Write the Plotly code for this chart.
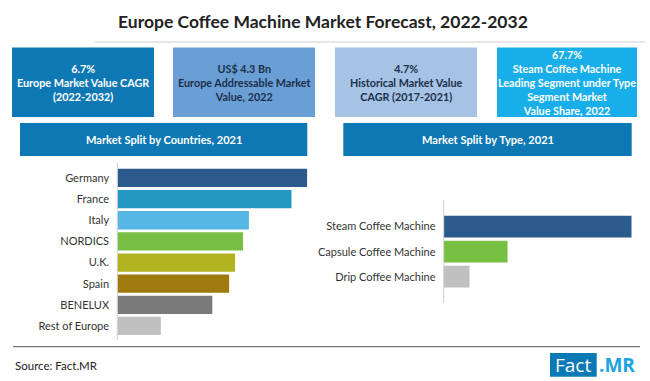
import plotly.graph_objects as go

W, H = 650, 381

# ---- data ----
countries = ["Germany", "France", "Italy", "NORDICS", "U.K.", "Spain", "BENELUX", "Rest of Europe"]
country_share = [19.2, 17.6, 13.3, 12.7, 11.9, 11.3, 9.6, 4.4]
country_colors = ["#2b5a8c", "#2398c2", "#56b6e4", "#78c043", "#b3b21f", "#9e7b0c", "#7a7a7a", "#c0c0c0"]

types = ["Steam Coffee Machine", "Capsule Coffee Machine", "Drip Coffee Machine"]
type_share = [67.7, 23.0, 9.3]
type_colors = ["#2b5a8c", "#78c043", "#c0c0c0"]

kpi_texts = [
    "6.7%<br>Europe Market Value CAGR<br>(2022-2032)",
    "US$ 4.3 Bn<br>Europe Addressable Market<br>Value, 2022",
    "4.7%<br>Historical Market Value<br>CAGR (2017-2021)",
    "67.7%<br>Steam Coffee Machine<br>Leading Segment under Type<br>Segment Market<br>Value Share, 2022",
]
kpi_fill = ["#0e78b4", "#6a9fd5", "#a5c3e4", "#17aee9"]
kpi_font = ["#ffffff", "#1c2f4a", "#1c2f4a", "#ffffff"]


def X(px):
    return px / W


def Y(py):
    return 1 - py / H


fig = go.Figure()

fig.add_trace(go.Bar(
    x=country_share, y=countries, orientation="h",
    marker=dict(color=country_colors, line=dict(width=0)),
    xaxis="x", yaxis="y", hoverinfo="x+y", showlegend=False,
))
fig.add_trace(go.Bar(
    x=type_share, y=types, orientation="h",
    marker=dict(color=type_colors, line=dict(width=0)),
    xaxis="x2", yaxis="y2", hoverinfo="x+y", showlegend=False,
))

label_font = dict(family="Lato, 'Open Sans', sans-serif", size=11, color="#333333")

fig.update_layout(
    width=W, height=H,
    margin=dict(l=0, r=0, t=0, b=0),
    paper_bgcolor="white", plot_bgcolor="rgba(0,0,0,0)",
    bargap=0.135,
    xaxis=dict(domain=[X(117.3), X(307.3)], range=[0, country_share[0]],
               visible=False, fixedrange=True),
    yaxis=dict(domain=[Y(336.5), Y(167.4)], range=[len(countries) - 0.5, -0.5],
               type="category", showgrid=False, zeroline=False, showline=False,
               ticks="outside", ticklen=5, tickcolor="rgba(0,0,0,0)",
               tickfont=label_font, fixedrange=True),
    xaxis2=dict(domain=[X(443.7), X(631.7)], range=[0, type_share[0]],
                visible=False, fixedrange=True),
    yaxis2=dict(domain=[Y(289.2), Y(214.1)], range=[len(types) - 0.5, -0.5],
                type="category", showgrid=False, zeroline=False, showline=False,
                ticks="outside", ticklen=5, tickcolor="rgba(0,0,0,0)",
                tickfont=label_font, anchor="x2", fixedrange=True),
)

shapes = []
annotations = []

# title
annotations.append(dict(
    text="<b>Europe Coffee Machine Market Forecast, 2022-2032</b>",
    x=X(323), y=Y(22), xref="paper", yref="paper", showarrow=False,
    xanchor="center", yanchor="middle",
    font=dict(family="Lato, sans-serif", size=17.5, color="#222222"),
))
# line under title
shapes.append(dict(type="line", xref="paper", yref="paper",
                   x0=X(95), x1=X(645), y0=Y(42), y1=Y(42),
                   line=dict(color="#cfcfcf", width=1)))

# KPI boxes
boxes = [(12, 154), (173, 315), (335, 477), (497, 637)]
for (x0, x1), txt, fill, fc in zip(boxes, kpi_texts, kpi_fill, kpi_font):
    shapes.append(dict(type="rect", xref="paper", yref="paper",
                       x0=X(x0), x1=X(x1), y0=Y(117), y1=Y(47.5),
                       fillcolor=fill, line=dict(width=0), layer="below"))
    annotations.append(dict(
        text="<b>" + txt + "</b>", x=X((x0 + x1) / 2), y=Y(82.3),
        xref="paper", yref="paper", showarrow=False, align="center",
        xanchor="center", yanchor="middle",
        font=dict(family="Lato, sans-serif", size=10.8, color=fc),
    ))

# section headers
headers = [((20, 307.3), "Market Split by Countries, 2021"),
           ((343.3, 631.7), "Market Split by Type, 2021")]
for (x0, x1), txt in headers:
    shapes.append(dict(type="rect", xref="paper", yref="paper",
                       x0=X(x0), x1=X(x1), y0=Y(156), y1=Y(123),
                       fillcolor="#0e78b4", line=dict(width=0), layer="below"))
    annotations.append(dict(
        text="<b>" + txt + "</b>", x=X((x0 + x1) / 2), y=Y(139.5),
        xref="paper", yref="paper", showarrow=False,
        xanchor="center", yanchor="middle",
        font=dict(family="Lato, sans-serif", size=11.1, color="white"),
    ))

# vertical axis lines
shapes.append(dict(type="line", xref="paper", yref="paper",
                   x0=X(117.3), x1=X(117.3), y0=Y(163), y1=Y(340),
                   line=dict(color="#d0d0d0", width=1)))
shapes.append(dict(type="line", xref="paper", yref="paper",
                   x0=X(443.7), x1=X(443.7), y0=Y(200), y1=Y(303),
                   line=dict(color="#d0d0d0", width=1)))

# bottom separator
shapes.append(dict(type="line", xref="paper", yref="paper",
                   x0=X(13), x1=X(640), y0=Y(346.7), y1=Y(346.7),
                   line=dict(color="#555555", width=1)))

# source
annotations.append(dict(
    text="Source: Fact.MR", x=X(12.5), y=Y(365), xref="paper", yref="paper",
    showarrow=False, xanchor="left", yanchor="middle",
    font=dict(family="Lato, sans-serif", size=11.5, color="#222222"),
))

# logo
shapes.append(dict(type="rect", xref="paper", yref="paper",
                   x0=X(550), x1=X(596.7), y0=Y(376.7), y1=Y(353),
                   fillcolor="#0b79b5", line=dict(width=0), layer="below"))
annotations.append(dict(
    text="Fact", x=X(573.3), y=Y(365), xref="paper", yref="paper",
    showarrow=False, xanchor="center", yanchor="middle",
    font=dict(family="'Open Sans', sans-serif", size=19, color="white"),
))
annotations.append(dict(
    text="<b>.MR</b>", x=X(597), y=Y(365), xref="paper", yref="paper",
    showarrow=False, xanchor="left", yanchor="middle",
    font=dict(family="'Open Sans', sans-serif", size=19, color="#1ba3e0"),
))

fig.update_layout(shapes=shapes, annotations=annotations)
fig.write_html(
    "out.html",
    config={"displayModeBar": False},
    post_script="document.body.style.margin='0';document.body.style.padding='0';",
)
